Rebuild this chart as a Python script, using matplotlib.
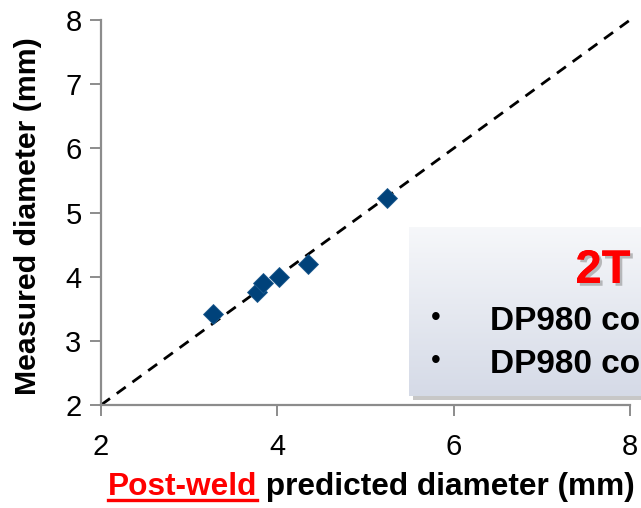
import matplotlib
matplotlib.use("Agg")
import matplotlib.pyplot as plt
import numpy as np
from matplotlib.patches import Rectangle
from matplotlib.lines import Line2D
import matplotlib.patheffects as pe

plt.rcParams['font.family'] = ['Liberation Sans', 'DejaVu Sans']

# Predicted vs measured nugget diameters (mm)
predicted = [3.27, 3.77, 3.84, 4.02, 4.35, 5.24]
measured = [3.42, 3.76, 3.90, 3.99, 4.20, 5.22]

x_ticks = [2, 4, 6, 8]
y_ticks = [2, 3, 4, 5, 6, 7, 8]
ref_line = [2, 8]

title_text = "2T"
bullet_lines = ["DP980 coated", "DP980 coated"]

W, H = 641, 508
fig = plt.figure(figsize=(W / 100, H / 100), dpi=100)
ax = fig.add_axes([101 / W, 1 - 405 / H, (630 - 101) / W, (405 - 20) / H])

ax.plot(ref_line, ref_line, color='black', lw=2.0, ls=(0, (4, 3)), zorder=2,
        clip_on=False)
ax.plot(predicted, measured, ls='none', marker='D', markersize=10.5,
        color='#00427a', markeredgecolor='#1d5a8e', markeredgewidth=0.6,
        zorder=3)

ax.set_xlim(2, 8)
ax.set_ylim(2, 8)
ax.set_xticks(x_ticks)
ax.set_yticks(y_ticks)
for s in ['top', 'right']:
    ax.spines[s].set_visible(False)
for s in ['left', 'bottom']:
    ax.spines[s].set_color('#8c8c8c')
    ax.spines[s].set_linewidth(1.6)
ax.tick_params(axis='both', direction='out', length=8, width=1.4,
               color='#8c8c8c', labelsize=21, labelcolor='black')
ax.tick_params(axis='x', pad=12)
ax.tick_params(axis='y', pad=6)

# y-axis label placed in figure coordinates
fig.text(28 / W, 1 - 216 / H, "Measured diameter (mm)", fontsize=21.8,
         fontweight='bold', rotation=90, ha='center', va='center')

# x-axis label: underlined red prefix followed by black text
fig.canvas.draw()
renderer = fig.canvas.get_renderer()
base_y = 1 - 495 / H
t1 = fig.text(108 / W, base_y, "Post-weld", color='#ff0000', fontsize=22.8,
              fontweight='bold', ha='left', va='baseline')
bb = t1.get_window_extent(renderer)
fig.text(bb.x1 / W, base_y, " predicted diameter (mm)", color='black',
         fontsize=22.8, fontweight='bold', ha='left', va='baseline')
uy = 1 - 500 / H
fig.add_artist(Line2D([bb.x0 / W, bb.x1 / W], [uy, uy], color='#ff0000',
                      lw=2.4, transform=fig.transFigure))

# annotation box with a soft vertical gradient and drop shadow
bx0, by0, bx1, by1 = 409 / W, 1 - 396 / H, 700 / W, 1 - 227 / H
shadow = Rectangle((bx0 + 4 / W, by0 - 4 / H), bx1 - bx0, by1 - by0,
                   transform=fig.transFigure, facecolor='#9a9a9a',
                   edgecolor='none', alpha=0.55, zorder=5)
fig.add_artist(shadow)
grad = np.linspace(0, 1, 256).reshape(-1, 1)
top = np.array([0.965, 0.97, 0.98])
bot = np.array([0.835, 0.855, 0.905])
img = top + (bot - top) * grad[..., None]
gax = fig.add_axes([bx0, by0, bx1 - bx0, by1 - by0], zorder=6)
gax.imshow(img, aspect='auto', extent=[0, 1, 0, 1], interpolation='bicubic')
gax.set_axis_off()

fig.text(603 / W, 1 - 283 / H, title_text, color='#ff0000', fontsize=34,
         fontweight='bold', ha='center', va='baseline', zorder=8,
         path_effects=[pe.withSimplePatchShadow(offset=(2, -2),
                                                shadow_rgbFace='#808080',
                                                alpha=0.5),
                       pe.Normal()])
for i, line in enumerate(bullet_lines):
    yb = 1 - (330 + 43 * i) / H
    fig.text(436 / W, yb + 12 / H, "\u2022", color='black', fontsize=20,
             ha='center', va='center', zorder=8)
    fig.text(490 / W, yb, line, color='black', fontsize=24,
             fontweight='bold', ha='left', va='baseline', zorder=8)

fig.savefig("out.png", dpi=100)
